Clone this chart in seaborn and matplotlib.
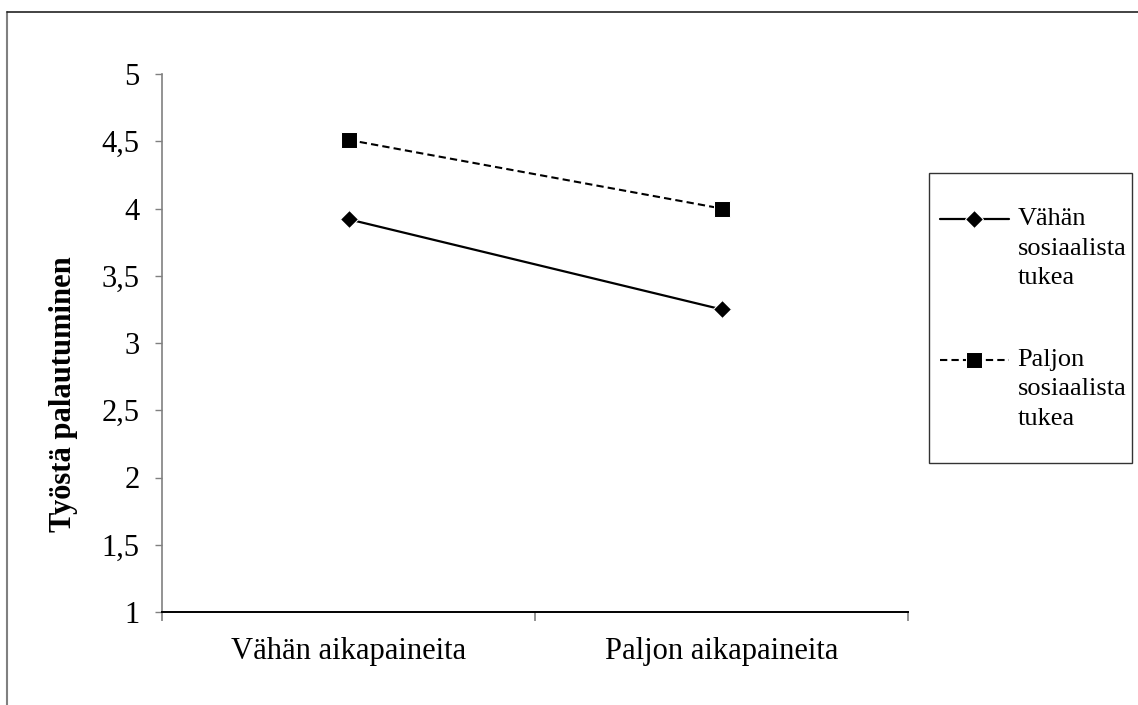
import numpy as np
import pandas as pd
import matplotlib
matplotlib.use("Agg")
import matplotlib.pyplot as plt
import seaborn as sns
from matplotlib.patches import Rectangle
from matplotlib.lines import Line2D
from matplotlib.ticker import FuncFormatter

categories = ["Vähän aikapaineita", "Paljon aikapaineita"]
vahan_tukea = [3.92, 3.25]
paljon_tukea = [4.51, 4.00]
series_names = ["Vähän\nsosiaalista\ntukea", "Paljon\nsosiaalista\ntukea"]
y_ticks = [1, 1.5, 2, 2.5, 3, 3.5, 4, 4.5, 5]

W, H = 1138, 705

sns.set_style("white", {"xtick.bottom": True, "ytick.left": True})
plt.rcParams["font.family"] = ["Liberation Serif", "DejaVu Serif"]
plt.rcParams["text.color"] = "black"
plt.rcParams["axes.labelcolor"] = "black"

df = pd.DataFrame({
    "x": list(range(len(categories))) * 2,
    "y": vahan_tukea + paljon_tukea,
    "sarja": [series_names[0]] * 2 + [series_names[1]] * 2,
})

fig = plt.figure(figsize=(W / 100, H / 100), dpi=100)
ax = fig.add_axes([162 / W, 1 - 612 / H, 746 / W, 538 / H])

sns.lineplot(data=df[df.sarja == series_names[0]], x="x", y="y", ax=ax,
             color="black", lw=1.6, marker="D", markersize=9, linestyle="-",
             label=series_names[0])
sns.lineplot(data=df[df.sarja == series_names[1]], x="x", y="y", ax=ax,
             color="black", lw=1.5, marker="s", markersize=11,
             linestyle=(0, (3.5, 2)), label=series_names[1])

# akselit Excel-tyyliin
ax.set_xlim(-0.5, len(categories) - 0.5)
ax.set_ylim(1, 5)
ax.set_yticks(y_ticks)
ax.yaxis.set_major_formatter(FuncFormatter(lambda v, p: f"{v:g}".replace(".", ",")))
ax.set_xticks(np.arange(-0.5, len(categories), 1.0))
ax.set_xticklabels([])
ax.set_xticks(range(len(categories)), minor=True)
ax.set_xticklabels(categories, minor=True)
ax.tick_params(axis="x", which="minor", length=0, pad=18, labelsize=22,
               labelcolor="black")
ax.tick_params(axis="x", which="major", length=6.5, width=1.2, color="#808080",
               direction="out")
ax.tick_params(axis="y", length=5, width=1, color="#808080", direction="out",
               pad=11, labelsize=22, labelcolor="black")
ax.set_xlabel("")
ax.set_ylabel("Työstä palautuminen", fontsize=22, fontweight="bold")
ax.yaxis.set_label_coords(-0.113, 0.405)

for s in ["top", "right"]:
    ax.spines[s].set_visible(False)
ax.spines["left"].set_color("#808080")
ax.spines["left"].set_linewidth(1.2)
ax.spines["bottom"].set_color("black")
ax.spines["bottom"].set_linewidth(1.4)

# selite
handles, labels = ax.get_legend_handles_labels()
leg = ax.legend(handles, labels, loc="upper left",
                bbox_to_anchor=(940 / W, 1 - 208 / H),
                bbox_transform=fig.transFigure, frameon=False,
                fontsize=19, handlelength=2.6, handleheight=1.15,
                handletextpad=0.34, labelspacing=2.25,
                borderpad=0, borderaxespad=0)
for t in leg.get_texts():
    t.set_linespacing(1.45)
for col in leg._legend_handle_box.get_children():
    for row in col.get_children():
        row.align = "top"

fig.patches.append(Rectangle((929 / W, 1 - 463 / H), 203 / W, 290 / H,
                             transform=fig.transFigure, fill=False,
                             edgecolor="#333333", lw=1))

# kuvan reunat (vain vasen ja ylä näkyvät)
fig.lines.append(Line2D([7 / W, 7 / W], [0, 1 - 12 / H], transform=fig.transFigure,
                        color="#808080", lw=1.5))
fig.lines.append(Line2D([7 / W, 1], [1 - 12 / H, 1 - 12 / H], transform=fig.transFigure,
                        color="#222222", lw=1.2))

fig.savefig("out.png", dpi=100)
